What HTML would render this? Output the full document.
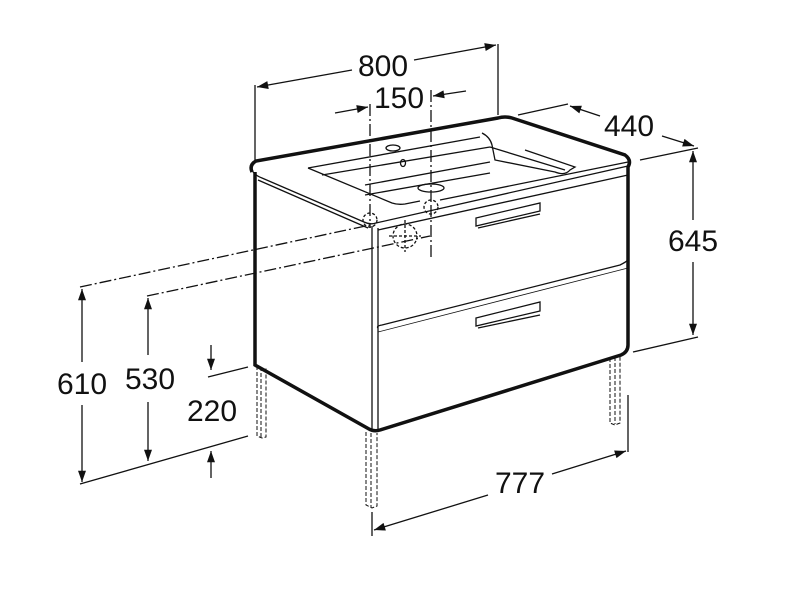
<!DOCTYPE html>
<html><head><meta charset="utf-8"><style>
html,body{margin:0;padding:0;background:#fff;}
svg{display:block;}
text{font-family:"Liberation Sans",sans-serif;font-size:30px;fill:#111;text-anchor:middle;}
</style></head><body>
<svg width="800" height="598" viewBox="0 0 800 598" xmlns="http://www.w3.org/2000/svg">
<defs>
<marker id="a" viewBox="0 0 14 10" refX="14" refY="5" markerWidth="14" markerHeight="8" markerUnits="userSpaceOnUse" orient="auto"><path d="M0,0 L14,5 L0,10 z" fill="#111"/></marker>
</defs>
<g stroke="#111" fill="none" stroke-width="1.3">
<path d="M252,172 Q249,165 256,161 L498,118 Q505,116 512,118 L625,155 Q632,160 628,167 L628,345 Q628,352 621,355 L380,430 Q374,432 369,429 L255,365 L255,172" stroke-width="3.5"/>
<path d="M252,170 Q254,175 262,178 L364,222 Q370,225 376,223 L628,166"/>
<path d="M258,180 L368,228"/>
<path d="M378,230 L628,175"/>
<path d="M372,226 L372,430 M378,228 L378,430"/>
<path d="M378,328 Q376,326 382,325 L620,265 Q626,262 628,260"/>
<path d="M378,332 L628,268" stroke-width="0.8"/>
<path d="M308,168 L480,137 M322,175 L490,147 M365,185 L490,162 M365,195 L490,173"/>
<path d="M308,168 L392,203 Q398,205 405,204 L420,201"/>
<path d="M482,133 Q490,137 492,145 L495,160 L555,172 Q565,176 570,170 L575,167 L525,150"/>
<path d="M490,147 L565,170"/>
<path d="M440,200 L628,162"/>
<ellipse cx="393" cy="148" rx="7" ry="3"/>
<ellipse cx="403" cy="163" rx="2.5" ry="3.5"/>
<ellipse cx="431" cy="188" rx="13" ry="4"/>
<path d="M476,218 L476,226 L540,211 L540,203 Z M478,228 L540,214"/>
<path d="M476,318 L476,326 L540,311 L540,302 Z M478,328 L540,315"/>
<g stroke-dasharray="4,2" stroke-width="1">
<path d="M257,366 L257,436 L262,438 L266,437 L266,368 M261,367 L261,437"/>
<path d="M366,432 L366,505 L372,508 L377,506 L377,433 M371,433 L371,507"/>
<path d="M610,358 L610,423 L615,425 L620,423 L620,355 M615,357 L615,424"/>
</g>
<g stroke-dasharray="3,2">
<circle cx="370" cy="220" r="7"/>
<circle cx="431" cy="207" r="7"/>
<circle cx="405" cy="236" r="12"/>
<path d="M405,220 L405,252 M389,236 L421,236"/>
</g>
<path d="M255,160 L255,85 M498,115 L498,44"/>
<line x1="352" y1="70" x2="257" y2="87" marker-end="url(#a)"/>
<line x1="414" y1="60" x2="496" y2="45" marker-end="url(#a)"/>
<g stroke-dasharray="12,3,2,3">
<path d="M370,104 L370,228 M431,90 L431,205 M431,205 L431,260"/>
<path d="M80,287 L370,225"/>
<path d="M147,296 L430,236"/>
</g>
<line x1="335" y1="113" x2="368" y2="107" marker-end="url(#a)"/>
<line x1="466" y1="91" x2="433" y2="96" marker-end="url(#a)"/>
<path d="M518,115 L568,104 M640,160 L698,148"/>
<line x1="600" y1="116" x2="570" y2="106" marker-end="url(#a)"/>
<line x1="662" y1="136" x2="694" y2="146" marker-end="url(#a)"/>
<path d="M633,352 L698,337"/>
<line x1="693" y1="220" x2="693" y2="151" marker-end="url(#a)"/>
<line x1="693" y1="262" x2="693" y2="335" marker-end="url(#a)"/>
<path d="M372,512 L372,536 M628,395 L628,452"/>
<line x1="488" y1="495" x2="374" y2="530" marker-end="url(#a)"/>
<line x1="552" y1="474" x2="626" y2="451" marker-end="url(#a)"/>
<path d="M80,484 L248,436 M208,377 L248,367"/>
<line x1="82" y1="362" x2="82" y2="289" marker-end="url(#a)"/>
<line x1="82" y1="405" x2="82" y2="482" marker-end="url(#a)"/>
<line x1="148" y1="355" x2="148" y2="298" marker-end="url(#a)"/>
<line x1="148" y1="402" x2="148" y2="461" marker-end="url(#a)"/>
<line x1="211" y1="345" x2="211" y2="370" marker-end="url(#a)"/>
<line x1="211" y1="478" x2="211" y2="451" marker-end="url(#a)"/>
</g>
<text x="383" y="76">800</text>
<text x="399" y="108">150</text>
<text x="629" y="136">440</text>
<text x="693" y="251">645</text>
<text x="520" y="493">777</text>
<text x="82" y="394">610</text>
<text x="150" y="389">530</text>
<text x="212" y="421">220</text>
</svg>
</body></html>
